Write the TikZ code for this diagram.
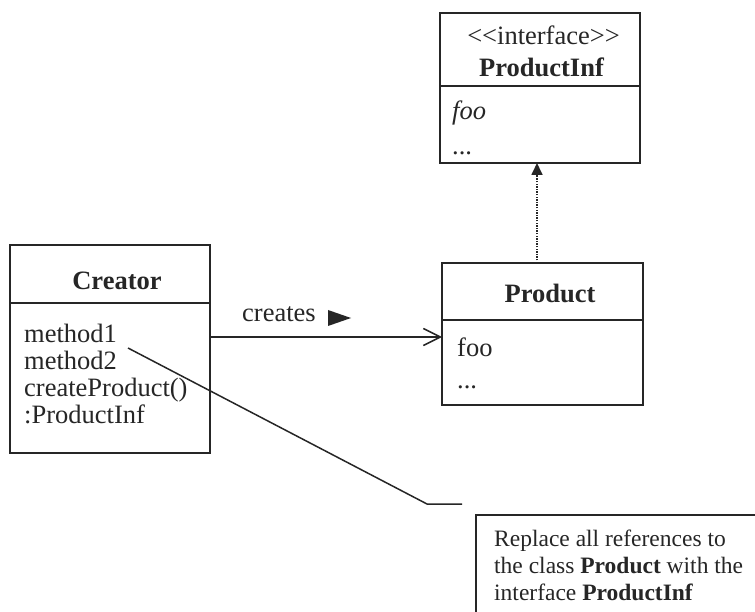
\documentclass[tikz,border=0pt]{standalone}
\usepackage{fontspec}
\setmainfont{Liberation Serif}
\usetikzlibrary{arrows.meta}
\definecolor{ink}{RGB}{38,38,38}
\tikzset{
  umlbox/.style={draw=ink, line width=1.7pt},
  divider/.style={draw=ink, line width=1.6pt},
  lbl/.style={inner sep=0pt, text=ink, font=\fontsize{26.5}{28}\selectfont},
  notelbl/.style={inner sep=0pt, text=ink, font=\fontsize{23.5}{27}\selectfont},
  conn/.style={draw=ink, line width=1.5pt},
}
\begin{document}
\begin{tikzpicture}[x=1pt,y=-1pt]
\useasboundingbox (0,0) rectangle (755,612);
\fill[white] (0,0) rectangle (755,612);

% ProductInf interface
\draw[umlbox] (440,13) rectangle (640,163);
\draw[divider] (440,86) -- (640,86);
\node[lbl, anchor=base] (pistereo) at (543.5,45) {<\kern0pt<interface>\kern0pt>};
\node[lbl, anchor=base] (pititle) at (541.5,77) {\bfseries ProductInf};
\node[lbl, anchor=base west] (pifoo) at (452,120) {\itshape foo};
\node[lbl, anchor=base west] (pidots) at (452,155) {...};
\coordinate (pibottom) at (537,163);

% Creator class
\draw[umlbox] (10,245) rectangle (210,453);
\draw[divider] (10,303) -- (210,303);
\node[lbl, anchor=base] (crtitle) at (117,290) {\bfseries Creator};
\node[lbl, anchor=base west] (crm1) at (24,342) {method1};
\node[lbl, anchor=base west] (crm2) at (24,369) {method2};
\node[lbl, anchor=base west] (crm3) at (24,396) {createProduct()};
\node[lbl, anchor=base west] (crm4) at (24,423) {:ProductInf};
\coordinate (creast) at (210,337);

% Product class
\draw[umlbox] (442,263) rectangle (643,405);
\draw[divider] (442,320) -- (643,320);
\node[lbl, anchor=base] (prtitle) at (550,303) {\bfseries Product};
\node[lbl, anchor=base west] (prfoo) at (457,356) {foo};
\node[lbl, anchor=base west] (prdots) at (457,388) {...};
\coordinate (prwest) at (442,337);
\coordinate (prtop) at (537,263);

% creates association
\draw[conn, -{Straight Barb[length=17pt,width=17pt,line width=1.5pt]}] (creast) -- (prwest);
\node[lbl, anchor=base west] (creates) at (242,322) {creates};
\fill[ink] (328,310) -- (351,318) -- (328,326) -- cycle;

% realization (dotted)
\draw[draw=ink, line width=1.7pt, dash pattern=on 1.3pt off 1.3pt,
      -{Triangle[length=12pt,width=11pt]}] (prtop) -- (pibottom);

% note and its connector
\draw[umlbox] (476,515) rectangle (770,630);
\coordinate (noteanchor) at (128,348);
\coordinate (notebend) at (427,504);
\coordinate (noteend) at (462,504);
\draw[conn] (noteanchor) -- (notebend) -- (noteend);
\node[notelbl, anchor=base west] (note1) at (494,546) {Replace all references to};
\node[notelbl, anchor=base west] (note2) at (494,573) {the class \textbf{Product} with the};
\node[notelbl, anchor=base west] (note3) at (494,600) {interface \textbf{ProductInf}};
\end{tikzpicture}
\end{document}
